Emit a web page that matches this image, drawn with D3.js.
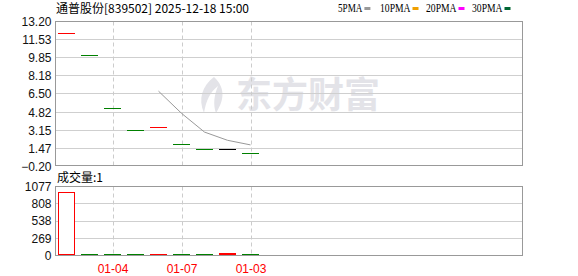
<!DOCTYPE html>
<html>
<head>
<meta charset="utf-8">
<script src="https://cdn.jsdelivr.net/npm/d3@7"></script>
<style>
  body { margin: 0; background: #fff; }
  svg { display: block; }
</style>
</head>
<body>
<div id="chart-container"></div>
<script>
// data
const closes = [12.08, 10.05, 5.16, 3.13, 3.40, 1.84, 1.37, 1.37, 1.00];
const opens = [12.08, 10.05, 5.16, 3.13, 3.40, 1.84, 1.37, 1.37, 1.00];
const direction = ["up", "down", "down", "down", "up", "down", "down", "flat", "down"];
const volumes = [990, 10, 10, 10, 10, 10, 10, 30, 1];
const priceTicks = [13.20, 11.53, 9.85, 8.18, 6.50, 4.82, 3.15, 1.47, -0.20];
const volumeTicks = [1077, 808, 538, 269, 0];
const tickIndex = [2, 5, 8];
const tickLabels = ["01-04", "01-07", "01-03"];
const legendNames = ["5PMA", "10PMA", "20PMA", "30PMA"];
const legendColors = ["#999999", "#f0a000", "#ff00ff", "#006633"];

const W = 578, H = 276;
const left = 55.5, right = 522.5;
const main = { top: 21.5, bottom: 165.5 };
const vol = { top: 186.5, bottom: 255.5 };
const candleW = 17;
const latin = "'Liberation Sans', Arial, sans-serif";
const cjk = "'Noto Sans CJK SC', sans-serif";

const svg = d3.select("#chart-container")
    .append("svg")
    .attr("width", W)
    .attr("height", H);

// scales give pixel rows; +0.5 puts a 1px stroke on the row
const x = d3.scaleLinear().domain([0, closes.length - 1]).range([66.5, 250.5]);
const y = d3.scaleLinear().domain([-0.20, 13.20]).range([166, 21]);
const yv = d3.scaleLinear().domain([0, 1077]).range([255, 186]);

// watermark
const wm = svg.append("g").attr("fill", "#e3e3e8");
wm.append("path")
    .attr("d", "M214,77 C202,86 198,99 204,113 C206,101 210,92 218,86 C214,95 213,105 216,113 C223,102 227,89 214,77 Z");
wm.append("text")
    .attr("x", 236)
    .attr("y", 108)
    .style("font-family", cjk)
    .style("font-weight", "bold")
    .style("font-size", "36px")
    .text("东方财富");

// horizontal grid, main panel
svg.append("g")
    .selectAll("line")
    .data(priceTicks.slice(1, -1))
    .enter()
    .append("line")
    .attr("x1", left).attr("x2", right)
    .attr("y1", d => Math.round(y(d)) + 0.5)
    .attr("y2", d => Math.round(y(d)) + 0.5)
    .attr("stroke", "#cfcfcf");

// horizontal grid, volume panel
svg.append("g")
    .selectAll("line")
    .data(volumeTicks.slice(1, -1))
    .enter()
    .append("line")
    .attr("x1", left).attr("x2", right)
    .attr("y1", d => Math.round(yv(d)) + 0.5)
    .attr("y2", d => Math.round(yv(d)) + 0.5)
    .attr("stroke", "#cfcfcf");

// vertical dashed grid
tickIndex.forEach(i => {
    const xp = Math.round(x(i)) + 0.5;
    [[main.top, main.bottom], [vol.top, vol.bottom]].forEach(([t, b]) => {
        svg.append("line")
            .attr("x1", xp).attr("x2", xp)
            .attr("y1", t).attr("y2", b)
            .attr("stroke", "#cccccc")
            .attr("stroke-dasharray", "4,3");
    });
});

// panel borders
[main, vol].forEach(p => {
    svg.append("rect")
        .attr("x", left).attr("y", p.top)
        .attr("width", right - left).attr("height", p.bottom - p.top)
        .attr("fill", "none")
        .attr("stroke", "#999999");
});

// y axis labels
const yAxis = d3.axisLeft(y).tickValues(priceTicks).tickSize(0).tickPadding(4)
    .tickFormat(d3.format(".2f"));
svg.append("g")
    .attr("transform", `translate(${left}, 0.5)`)
    .call(yAxis)
    .call(g => g.select(".domain").remove())
    .selectAll("text")
    .style("font-family", latin)
    .style("font-size", "12px")
    .attr("fill", "#111");

const yvAxis = d3.axisLeft(yv).tickValues(volumeTicks).tickSize(0).tickPadding(4)
    .tickFormat(d3.format("d"));
svg.append("g")
    .attr("transform", `translate(${left}, 0.5)`)
    .call(yvAxis)
    .call(g => g.select(".domain").remove())
    .selectAll("text")
    .style("font-family", latin)
    .style("font-size", "12px")
    .attr("fill", "#111");

// x axis labels
const xAxis = d3.axisBottom(x).tickValues(tickIndex).tickSize(0).tickPadding(9)
    .tickFormat((d, i) => tickLabels[i]);
svg.append("g")
    .attr("transform", `translate(0, ${vol.bottom})`)
    .call(xAxis)
    .call(g => g.select(".domain").remove())
    .selectAll("text")
    .style("font-family", latin)
    .style("font-size", "12px")
    .attr("fill", "#ff0000");

const colorOf = d => d === "up" ? "#ff0000" : d === "down" ? "#008000" : "#000000";

// candles (flat bars: open = close)
svg.append("g")
    .attr("shape-rendering", "crispEdges")
    .selectAll("rect")
    .data(closes)
    .enter()
    .append("rect")
    .attr("x", (d, i) => Math.round(x(i) - candleW / 2))
    .attr("y", (d, i) => Math.round(y(Math.max(d, opens[i]))))
    .attr("width", candleW)
    .attr("height", (d, i) => Math.max(1, Math.round(Math.abs(y(d) - y(opens[i])))))
    .attr("fill", (d, i) => colorOf(direction[i]));

// MA5 line
const ma5 = closes.map((d, i) => i < 4 ? null : d3.mean(closes.slice(i - 4, i + 1)));
svg.append("path")
    .datum(ma5.map((d, i) => [i, d]).filter(p => p[1] !== null))
    .attr("fill", "none")
    .attr("stroke", "#999999")
    .attr("stroke-width", 1)
    .attr("d", d3.line().x(p => x(p[0])).y(p => y(p[1]) + 0.5));

// volume bars
const vg = svg.append("g").attr("shape-rendering", "crispEdges");
volumes.forEach((v, i) => {
    const x0 = Math.round(x(i) - candleW / 2);
    const base = 255;
    const h = Math.max(1, Math.round(base - yv(v)));
    const up = direction[i] !== "down";
    const col = up ? "#ff0000" : "#008000";
    if (up && h > 3) {
        vg.append("rect")
            .attr("x", x0 + 0.5).attr("y", base - h + 0.5)
            .attr("width", candleW - 1).attr("height", h - 1)
            .attr("fill", "#fff")
            .attr("stroke", col);
    } else {
        vg.append("rect")
            .attr("x", x0).attr("y", base - h)
            .attr("width", candleW).attr("height", h)
            .attr("fill", col);
    }
});

// title
svg.append("text")
    .attr("x", 56)
    .attr("y", 13)
    .style("font-family", cjk)
    .style("font-size", "12px")
    .attr("fill", "#000")
    .text("通普股份[839502] 2025-12-18 15:00");

svg.append("text")
    .attr("x", 57)
    .attr("y", 182)
    .style("font-family", cjk)
    .style("font-size", "12px")
    .attr("fill", "#000")
    .text("成交量:" + volumes[volumes.length - 1]);

// legend
const legendX = [338, 380, 426, 472];
const legend = svg.append("g");
legendNames.forEach((name, i) => {
    const w = name.length * 6.1;
    legend.append("text")
        .attr("x", legendX[i])
        .attr("y", 12)
        .style("font-family", "'Liberation Serif', serif")
        .style("font-size", "12px")
        .attr("fill", "#000")
        .attr("textLength", w)
        .attr("lengthAdjust", "spacingAndGlyphs")
        .text(name);
    legend.append("rect")
        .attr("x", legendX[i] + w + 2)
        .attr("y", 7)
        .attr("width", 6)
        .attr("height", 3)
        .attr("fill", legendColors[i]);
});
</script>
</body>
</html>
